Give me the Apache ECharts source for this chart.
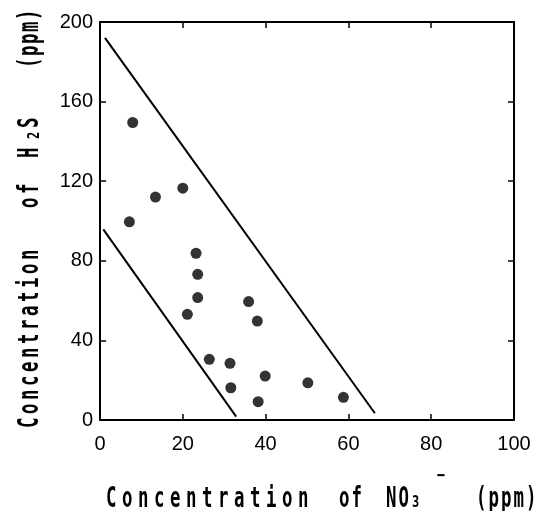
<!DOCTYPE html>
<html>
<head>
<meta charset="utf-8">
<script src="https://cdn.jsdelivr.net/npm/echarts@6/dist/echarts.min.js"></script>
<style>
  html, body { margin: 0; padding: 0; background: #fff; }
  #main { width: 539px; height: 511px; }
</style>
</head>
<body>
<div id="main"></div>
<script>
// measured points, NO3- (ppm) vs H2S (ppm)
var no3 = [7.9, 13.4, 20.0, 7.1, 23.2, 23.6, 23.6, 21.1, 35.9, 38.0, 26.4, 31.4, 31.6, 39.9, 38.2, 50.2, 58.8];
var h2s = [149.5, 112, 116.5, 99.6, 83.8, 73.2, 61.5, 53.1, 59.5, 49.7, 30.5, 28.5, 16.2, 22.1, 9.2, 18.7, 11.4];

// the two boundary lines
var upperX = [1.2, 66.4];
var upperY = [192, 3.4];
var lowerX = [0.8, 32.9];
var lowerY = [95.8, 1.7];

// axis ticks
var xTicks = [0, 20, 40, 60, 80, 100];
var yTicks = [0, 40, 80, 120, 160, 200];

function pairs(xs, ys) {
    var out = [];
    for (var i = 0; i < xs.length; i++) out.push([xs[i], ys[i]]);
    return out;
}

var labelFont = { color: '#000', fontFamily: 'Liberation Sans', fontSize: 20 };
var mono = 'DejaVu Sans Mono';

// title text with letter spacing: every char is a rich token padded to the wanted pitch
function spaced(txt, x, y, pitch, size, sc) {
    var adv = 0.602 * size * sc;
    var pad = Math.max(0, (pitch - adv) / sc);
    var s = txt.split('').map(function (c) { return '{l|' + c + '}'; }).join('');
    return {
        type: 'text', x: x, y: y, scaleX: sc,
        style: {
            text: s, fill: '#000', fontFamily: mono, fontWeight: 'bold', fontSize: size,
            align: 'left', verticalAlign: 'middle',
            rich: { l: { padding: [0, pad, 0, 0], fontFamily: mono, fontWeight: 'bold', fontSize: size, fill: '#000' } }
        }
    };
}

function baseX(pos, labels) {
    return {
        type: 'value', position: pos, min: xTicks[0], max: xTicks[xTicks.length - 1],
        interval: xTicks[1] - xTicks[0],
        axisLine: { show: true, onZero: false, lineStyle: { color: '#000', width: 2 } },
        axisTick: { show: true, inside: true, length: 6, lineStyle: { color: '#000', width: 1.5 } },
        axisLabel: labels ? Object.assign({ margin: 14 }, labelFont) : { show: false },
        splitLine: { show: false }
    };
}
function baseY(pos, labels) {
    return {
        type: 'value', position: pos, min: yTicks[0], max: yTicks[yTicks.length - 1],
        interval: yTicks[1] - yTicks[0],
        axisLine: { show: true, onZero: false, lineStyle: { color: '#000', width: 2 } },
        axisTick: { show: true, inside: true, length: 6, lineStyle: { color: '#000', width: 1.5 } },
        axisLabel: labels ? Object.assign({ margin: 7 }, labelFont) : { show: false },
        splitLine: { show: false }
    };
}

var myChart = echarts.init(document.getElementById('main'));
var sc = 0.62;
var option = {
    backgroundColor: '#fff',
    animation: false,
    grid: { left: 100, right: 25, top: 22, bottom: 91 },
    xAxis: [baseX('bottom', true), baseX('top', false)],
    yAxis: [baseY('left', true), baseY('right', false)],
    graphic: [
        // x axis title
        spaced('Concentration', 106, 500, 16, 28, sc),
        spaced('of', 339, 500, 12.5, 28, sc),
        spaced('NO', 386, 500, 12.5, 28, sc),
        spaced('3', 412, 503, 10, 16, 0.75),
        spaced('\u2212', 437, 476, 10, 18, 0.75),
        spaced('(ppm)', 476, 500, 12.5, 28, sc),
        // y axis title, reads bottom to top
        {
            type: 'group', x: 31, y: 428, rotation: Math.PI / 2,
            children: [
                spaced('Concentration', 0, 0, 14, 28, sc),
                spaced('of', 220, 0, 14, 28, sc),
                spaced('H', 270, 0, 12, 28, sc),
                spaced('2', 289, 4, 10, 16, 0.75),
                spaced('S', 300, 0, 12, 28, sc),
                spaced('(ppm)', 360, 0, 12, 28, sc)
            ]
        }
    ],
    series: [
        {
            name: 'upper', type: 'line', xAxisIndex: 0, yAxisIndex: 0,
            symbol: 'none', lineStyle: { color: '#000', width: 2 },
            data: pairs(upperX, upperY)
        },
        {
            name: 'lower', type: 'line', xAxisIndex: 0, yAxisIndex: 0,
            symbol: 'none', lineStyle: { color: '#000', width: 2 },
            data: pairs(lowerX, lowerY)
        },
        {
            name: 'points', type: 'scatter', xAxisIndex: 0, yAxisIndex: 0,
            symbol: 'circle', symbolSize: 11,
            itemStyle: { color: '#000' },
            data: pairs(no3, h2s)
        }
    ]
};
myChart.setOption(option);
</script>
</body>
</html>
